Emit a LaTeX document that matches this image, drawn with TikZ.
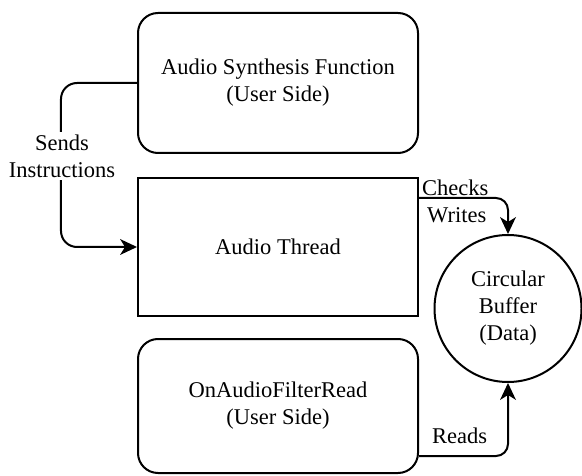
\documentclass[tikz,border=0pt]{standalone}
\usepackage{fontspec}
\setmainfont{Liberation Serif}
\usetikzlibrary{arrows.meta,calc}

\tikzset{
  every node/.style={font=\fontsize{22.5bp}{27bp}\selectfont},
  boxrnd/.style={draw, line width=2bp, rounded corners=20bp, align=center,
                 minimum width=280bp, inner sep=0pt},
  boxsq/.style={draw, line width=2bp, align=center,
                minimum width=280bp, inner sep=0pt},
  buffer/.style={draw, circle, line width=2bp, align=center,
                 minimum size=147bp, inner sep=0pt},
  tip/.tip={Stealth[length=17bp, width=16bp, inset=5bp, line width=0pt]},
  link/.style={line width=2bp, arrows={-tip}},
  lbl/.style={inner sep=0pt, anchor=base west},
}

\begin{document}
\begin{tikzpicture}[x=1bp, y=-1bp]
  \useasboundingbox (0,0) rectangle (582,476);

  % processing blocks
  \node[boxrnd, minimum height=140bp] (synth) at (278,83)
    {Audio Synthesis Function\\(User Side)};
  \node[boxsq, minimum height=138bp] (thread) at (278,247) {Audio Thread};
  \node[boxrnd, minimum height=134bp] (filter) at (278,406)
    {OnAudioFilterRead\\(User Side)};

  % shared data
  \node[buffer] (buf) at (508,308.5) {Circular\\Buffer\\(Data)};

  % instructions from the synthesis function into the audio thread
  \coordinate (bend) at ($(thread.west)+(-76,0)$);
  \draw[link, rounded corners=16bp] (synth.west) -| (bend) -- (thread.west);
  \node[fill=white, align=center, inner sep=3bp] (sends) at (62,156)
    {Sends\\Instructions};

  % audio thread checks / writes the buffer
  \coordinate (tout) at ($(thread.north east)+(0,21)$);
  \draw[link, rounded corners=12bp] (tout) -| (buf.north);
  \node[lbl] (checks) at (422,196) {Checks};
  \node[lbl] (writes) at (427,223) {Writes};

  % filter callback reads the buffer
  \coordinate (fout) at ($(filter.south east)+(0,-18)$);
  \draw[link, rounded corners=12bp] (fout) -| (buf.south);
  \node[lbl] (reads) at (432,443) {Reads};
\end{tikzpicture}
\end{document}
